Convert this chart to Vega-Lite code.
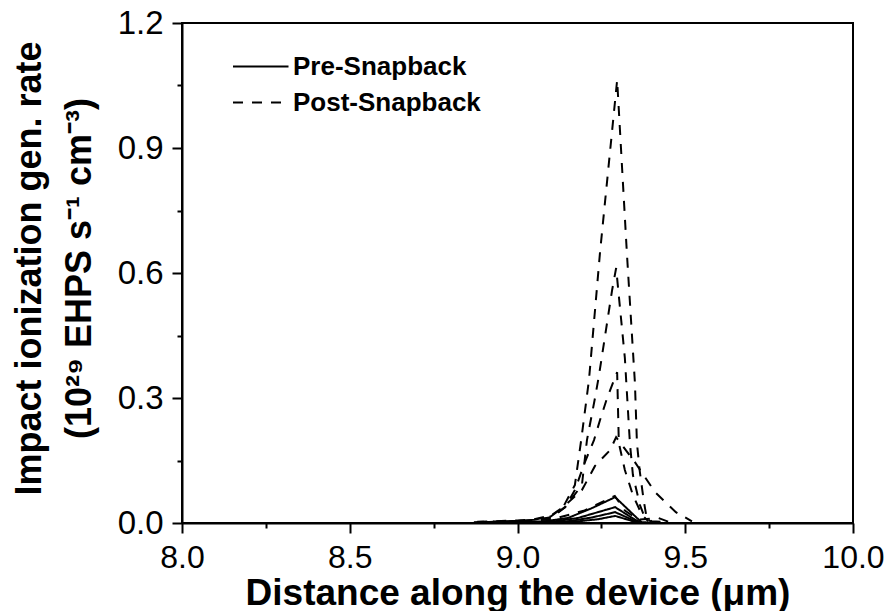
{
  "$schema": "https://vega.github.io/schema/vega-lite/v6.json",
  "width": 671,
  "height": 500,
  "autosize": "none",
  "padding": {"left": 182, "top": 23, "right": 41, "bottom": 88},
  "background": "white",
  "config": {"font": "Liberation Sans", "view": {"stroke": "black", "strokeWidth": 2}},
  "data": {"values": [
    {"c": "A", "t": "Post-Snapback", "x": 8.87, "y": 0.002},
    {"c": "A", "t": "Post-Snapback", "x": 8.95, "y": 0.004},
    {"c": "A", "t": "Post-Snapback", "x": 9.0, "y": 0.005},
    {"c": "A", "t": "Post-Snapback", "x": 9.05, "y": 0.008},
    {"c": "A", "t": "Post-Snapback", "x": 9.1, "y": 0.016},
    {"c": "A", "t": "Post-Snapback", "x": 9.136, "y": 0.038},
    {"c": "A", "t": "Post-Snapback", "x": 9.171, "y": 0.091},
    {"c": "A", "t": "Post-Snapback", "x": 9.19, "y": 0.2},
    {"c": "A", "t": "Post-Snapback", "x": 9.213, "y": 0.343},
    {"c": "A", "t": "Post-Snapback", "x": 9.246, "y": 0.65},
    {"c": "A", "t": "Post-Snapback", "x": 9.297, "y": 1.063},
    {"c": "A", "t": "Post-Snapback", "x": 9.326, "y": 0.648},
    {"c": "A", "t": "Post-Snapback", "x": 9.35, "y": 0.336},
    {"c": "A", "t": "Post-Snapback", "x": 9.356, "y": 0.192},
    {"c": "A", "t": "Post-Snapback", "x": 9.364, "y": 0.127},
    {"c": "A", "t": "Post-Snapback", "x": 9.376, "y": 0.055},
    {"c": "A", "t": "Post-Snapback", "x": 9.385, "y": 0.012},
    {"c": "A", "t": "Post-Snapback", "x": 9.4, "y": 0.004},
    {"c": "A", "t": "Post-Snapback", "x": 9.45, "y": 0.002},

    {"c": "B", "t": "Post-Snapback", "x": 8.9, "y": 0.002},
    {"c": "B", "t": "Post-Snapback", "x": 9.0, "y": 0.004},
    {"c": "B", "t": "Post-Snapback", "x": 9.05, "y": 0.007},
    {"c": "B", "t": "Post-Snapback", "x": 9.1, "y": 0.014},
    {"c": "B", "t": "Post-Snapback", "x": 9.142, "y": 0.038},
    {"c": "B", "t": "Post-Snapback", "x": 9.192, "y": 0.091},
    {"c": "B", "t": "Post-Snapback", "x": 9.207, "y": 0.199},
    {"c": "B", "t": "Post-Snapback", "x": 9.231, "y": 0.3},
    {"c": "B", "t": "Post-Snapback", "x": 9.243, "y": 0.355},
    {"c": "B", "t": "Post-Snapback", "x": 9.282, "y": 0.559},
    {"c": "B", "t": "Post-Snapback", "x": 9.294, "y": 0.612},
    {"c": "B", "t": "Post-Snapback", "x": 9.32, "y": 0.396},
    {"c": "B", "t": "Post-Snapback", "x": 9.335, "y": 0.192},
    {"c": "B", "t": "Post-Snapback", "x": 9.344, "y": 0.115},
    {"c": "B", "t": "Post-Snapback", "x": 9.365, "y": 0.043},
    {"c": "B", "t": "Post-Snapback", "x": 9.38, "y": 0.012},
    {"c": "B", "t": "Post-Snapback", "x": 9.4, "y": 0.003},

    {"c": "C", "t": "Post-Snapback", "x": 8.9, "y": 0.002},
    {"c": "C", "t": "Post-Snapback", "x": 9.0, "y": 0.004},
    {"c": "C", "t": "Post-Snapback", "x": 9.1, "y": 0.012},
    {"c": "C", "t": "Post-Snapback", "x": 9.142, "y": 0.038},
    {"c": "C", "t": "Post-Snapback", "x": 9.171, "y": 0.079},
    {"c": "C", "t": "Post-Snapback", "x": 9.201, "y": 0.146},
    {"c": "C", "t": "Post-Snapback", "x": 9.228, "y": 0.199},
    {"c": "C", "t": "Post-Snapback", "x": 9.246, "y": 0.247},
    {"c": "C", "t": "Post-Snapback", "x": 9.267, "y": 0.3},
    {"c": "C", "t": "Post-Snapback", "x": 9.297, "y": 0.362},
    {"c": "C", "t": "Post-Snapback", "x": 9.302, "y": 0.192},
    {"c": "C", "t": "Post-Snapback", "x": 9.32, "y": 0.127},
    {"c": "C", "t": "Post-Snapback", "x": 9.344, "y": 0.067},
    {"c": "C", "t": "Post-Snapback", "x": 9.371, "y": 0.019},
    {"c": "C", "t": "Post-Snapback", "x": 9.39, "y": 0.004},

    {"c": "D", "t": "Post-Snapback", "x": 8.88, "y": 0.003},
    {"c": "D", "t": "Post-Snapback", "x": 9.0, "y": 0.006},
    {"c": "D", "t": "Post-Snapback", "x": 9.05, "y": 0.009},
    {"c": "D", "t": "Post-Snapback", "x": 9.1, "y": 0.018},
    {"c": "D", "t": "Post-Snapback", "x": 9.136, "y": 0.038},
    {"c": "D", "t": "Post-Snapback", "x": 9.192, "y": 0.079},
    {"c": "D", "t": "Post-Snapback", "x": 9.231, "y": 0.137},
    {"c": "D", "t": "Post-Snapback", "x": 9.276, "y": 0.175},
    {"c": "D", "t": "Post-Snapback", "x": 9.294, "y": 0.206},
    {"c": "D", "t": "Post-Snapback", "x": 9.35, "y": 0.146},
    {"c": "D", "t": "Post-Snapback", "x": 9.41, "y": 0.074},
    {"c": "D", "t": "Post-Snapback", "x": 9.472, "y": 0.026},
    {"c": "D", "t": "Post-Snapback", "x": 9.52, "y": 0.004},

    {"c": "E", "t": "Post-Snapback", "x": 8.9, "y": 0.002},
    {"c": "E", "t": "Post-Snapback", "x": 9.1, "y": 0.008},
    {"c": "E", "t": "Post-Snapback", "x": 9.2, "y": 0.03},
    {"c": "E", "t": "Post-Snapback", "x": 9.29, "y": 0.065},
    {"c": "E", "t": "Post-Snapback", "x": 9.32, "y": 0.03},
    {"c": "E", "t": "Post-Snapback", "x": 9.36, "y": 0.008},
    {"c": "E", "t": "Post-Snapback", "x": 9.42, "y": 0.012},
    {"c": "E", "t": "Post-Snapback", "x": 9.45, "y": 0.003},

    {"c": "S1", "t": "Pre-Snapback", "x": 9.0, "y": 0.002},
    {"c": "S1", "t": "Pre-Snapback", "x": 9.08, "y": 0.004},
    {"c": "S1", "t": "Pre-Snapback", "x": 9.15, "y": 0.012},
    {"c": "S1", "t": "Pre-Snapback", "x": 9.22, "y": 0.035},
    {"c": "S1", "t": "Pre-Snapback", "x": 9.291, "y": 0.062},
    {"c": "S1", "t": "Pre-Snapback", "x": 9.356, "y": 0.012},
    {"c": "S1", "t": "Pre-Snapback", "x": 9.37, "y": 0.002},
    {"c": "S1", "t": "Pre-Snapback", "x": 9.4, "y": 0.001},

    {"c": "S2", "t": "Pre-Snapback", "x": 9.0, "y": 0.001},
    {"c": "S2", "t": "Pre-Snapback", "x": 9.1, "y": 0.003},
    {"c": "S2", "t": "Pre-Snapback", "x": 9.18, "y": 0.012},
    {"c": "S2", "t": "Pre-Snapback", "x": 9.291, "y": 0.038},
    {"c": "S2", "t": "Pre-Snapback", "x": 9.35, "y": 0.008},
    {"c": "S2", "t": "Pre-Snapback", "x": 9.37, "y": 0.001},

    {"c": "S3", "t": "Pre-Snapback", "x": 9.05, "y": 0.001},
    {"c": "S3", "t": "Pre-Snapback", "x": 9.15, "y": 0.004},
    {"c": "S3", "t": "Pre-Snapback", "x": 9.22, "y": 0.013},
    {"c": "S3", "t": "Pre-Snapback", "x": 9.291, "y": 0.026},
    {"c": "S3", "t": "Pre-Snapback", "x": 9.35, "y": 0.005},
    {"c": "S3", "t": "Pre-Snapback", "x": 9.37, "y": 0.001},

    {"c": "S4", "t": "Pre-Snapback", "x": 9.05, "y": 0.001},
    {"c": "S4", "t": "Pre-Snapback", "x": 9.18, "y": 0.004},
    {"c": "S4", "t": "Pre-Snapback", "x": 9.24, "y": 0.009},
    {"c": "S4", "t": "Pre-Snapback", "x": 9.291, "y": 0.017},
    {"c": "S4", "t": "Pre-Snapback", "x": 9.345, "y": 0.004},
    {"c": "S4", "t": "Pre-Snapback", "x": 9.37, "y": 0.001}
  ]},
  "mark": {"type": "line", "color": "black", "strokeWidth": 2, "clip": true},
  "encoding": {
    "x": {
      "field": "x", "type": "quantitative",
      "scale": {"domain": [8, 10], "nice": false, "zero": false},
      "axis": {
        "values": [8, 8.25, 8.5, 8.75, 9, 9.25, 9.5, 9.75, 10],
        "format": ".1f",
        "labelExpr": "round(datum.value*100) % 50 === 0 ? datum.label : ''",
        "tickSize": {"condition": {"test": "round(datum.value*100) % 50 === 0", "value": 10}, "value": 5},
        "tickWidth": 2, "tickColor": "black",
        "domainColor": "black", "domainWidth": 2,
        "grid": false,
        "labelFontSize": 32, "labelColor": "black", "labelPadding": 9,
        "labelFlush": false, "labelOverlap": false,
        "title": "Distance along the device (μm)",
        "titleFontSize": 37, "titleFontWeight": "bold", "titleColor": "black",
        "titleBaseline": "alphabetic", "titleY": 81
      }
    },
    "y": {
      "field": "y", "type": "quantitative",
      "scale": {"domain": [0, 1.2], "nice": false},
      "axis": {
        "values": [0, 0.15, 0.3, 0.45, 0.6, 0.75, 0.9, 1.05, 1.2],
        "format": ".1f",
        "labelExpr": "round(datum.value*100) % 30 === 0 ? datum.label : ''",
        "tickSize": {"condition": {"test": "round(datum.value*100) % 30 === 0", "value": 10}, "value": 5},
        "tickWidth": 2, "tickColor": "black",
        "domainColor": "black", "domainWidth": 2,
        "grid": false,
        "labelFontSize": 33, "labelColor": "black", "labelPadding": 9,
        "labelFlush": false, "labelOverlap": false,
        "title": ["Impact ionization gen. rate", "(10²⁹ EHPS s⁻¹ cm⁻³)"],
        "titleFontSize": 36, "titleFontWeight": "bold", "titleColor": "black",
        "titleAngle": 270, "titleBaseline": "top", "titleAlign": "center",
        "titleLineHeight": 50, "titleX": -170, "titleY": 245
      }
    },
    "detail": {"field": "c", "type": "nominal"},
    "strokeDash": {
      "field": "t", "type": "nominal",
      "scale": {"domain": ["Pre-Snapback", "Post-Snapback"], "range": [[1, 0], [10, 9]]},
      "legend": {
        "orient": "none", "legendX": 50, "legendY": 24, "title": null,
        "padding": 0, "symbolType": "M-1,0H2", "symbolSize": 1369,
        "symbolStrokeWidth": 2, "symbolStrokeColor": "black", "symbolFillColor": "transparent",
        "labelFontSize": 26, "labelFontWeight": "bold", "labelColor": "black",
        "labelOffset": 22, "labelLimit": 0, "rowPadding": 3
      }
    }
  }
}
